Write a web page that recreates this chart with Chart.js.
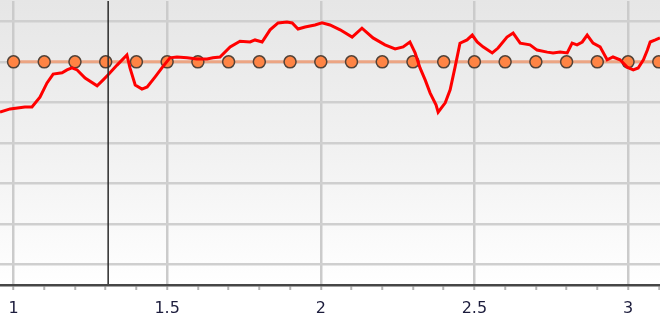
<!DOCTYPE html>
<html>
<head>
<meta charset="utf-8">
<script src="https://cdn.jsdelivr.net/npm/chart.js@4/dist/chart.umd.min.js"></script>
<style>
  html, body { margin: 0; padding: 0; background: #ffffff; }
  #wrap { width: 660px; height: 321px; }
</style>
</head>
<body>
<div id="wrap"><canvas id="c"></canvas></div>
<script>
// Measured trace (red)
const traceX = [0.956, 0.989, 1.037, 1.060, 1.086, 1.109, 1.129, 1.158, 1.174, 1.190,
  1.207, 1.233, 1.272, 1.291, 1.308, 1.337, 1.369, 1.379, 1.396, 1.418,
  1.435, 1.461, 1.483, 1.509, 1.532, 1.565, 1.597, 1.630, 1.649, 1.672,
  1.705, 1.737, 1.770, 1.786, 1.809, 1.835, 1.861, 1.890, 1.907, 1.926,
  1.949, 1.981, 2.004, 2.030, 2.063, 2.102, 2.134, 2.170, 2.209, 2.242,
  2.268, 2.290, 2.307, 2.323, 2.340, 2.356, 2.375, 2.382, 2.405, 2.421,
  2.437, 2.453, 2.476, 2.493, 2.509, 2.528, 2.558, 2.577, 2.606, 2.626,
  2.649, 2.681, 2.704, 2.737, 2.756, 2.779, 2.802, 2.818, 2.834, 2.851,
  2.867, 2.886, 2.909, 2.932, 2.951, 2.974, 2.997, 3.017, 3.033, 3.050,
  3.063, 3.072, 3.089, 3.104];
const traceY = [4.76, 4.84, 4.89, 4.89, 5.13, 5.48, 5.70, 5.73, 5.80, 5.85,
  5.80, 5.60, 5.41, 5.55, 5.68, 5.92, 6.17, 5.85, 5.43, 5.33,
  5.38, 5.63, 5.85, 6.10, 6.12, 6.10, 6.07, 6.07, 6.10, 6.12,
  6.37, 6.51, 6.49, 6.54, 6.49, 6.79, 6.96, 6.98, 6.96, 6.81,
  6.86, 6.91, 6.96, 6.91, 6.79, 6.61, 6.83, 6.59, 6.42, 6.32,
  6.37, 6.49, 6.22, 5.85, 5.55, 5.23, 4.94, 4.76, 4.99, 5.31,
  5.87, 6.46, 6.54, 6.66, 6.49, 6.37, 6.22, 6.34, 6.61, 6.71,
  6.46, 6.42, 6.29, 6.24, 6.22, 6.24, 6.22, 6.46, 6.42, 6.49,
  6.66, 6.46, 6.37, 6.05, 6.12, 6.05, 5.87, 5.80, 5.85, 6.05,
  6.29, 6.49, 6.54, 6.59];

// Reference level with sample markers (orange)
const levelX = [1.0, 1.1, 1.2, 1.3, 1.4, 1.5, 1.6, 1.7, 1.8, 1.9, 2.0,
  2.1, 2.2, 2.3, 2.4, 2.5, 2.6, 2.7, 2.8, 2.9, 3.0, 3.1];
const levelY = [6, 6, 6, 6, 6, 6, 6, 6, 6, 6, 6,
  6, 6, 6, 6, 6, 6, 6, 6, 6, 6, 6];

// Cursor position
const cursorX = 1.308;

// Axis ranges and ticks
const xRange = [0.956, 3.104];
const yRange = [0.5, 7.5];
const xTicks = [1.0, 1.1, 1.2, 1.3, 1.4, 1.5, 1.6, 1.7, 1.8, 1.9, 2.0,
  2.1, 2.2, 2.3, 2.4, 2.5, 2.6, 2.7, 2.8, 2.9, 3.0, 3.1];
const xLabels = [1, 1.5, 2, 2.5, 3];
const yTicks = [1, 2, 3, 4, 5, 6, 7];

const toPoints = (xs, ys) => xs.map((x, i) => ({ x: x, y: ys[i] }));
const isLabelled = v => xLabels.some(l => Math.abs(l - v) < 1e-6);

const plotBackground = {
  id: 'plotBackground',
  beforeDraw(chart) {
    const { ctx, chartArea: a } = chart;
    const g = ctx.createLinearGradient(0, 0, 0, a.bottom);
    g.addColorStop(0, '#e6e6e6');
    g.addColorStop(0.55, '#f2f2f2');
    g.addColorStop(1, '#ffffff');
    ctx.save();
    ctx.fillStyle = g;
    ctx.fillRect(a.left, 0, a.right - a.left, a.bottom);
    ctx.restore();
  }
};

new Chart(document.getElementById('c'), {
  type: 'line',
  data: {
    datasets: [
      {
        data: [{ x: cursorX, y: yRange[0] }, { x: cursorX, y: yRange[1] }],
        borderColor: '#2b2b2b',
        borderWidth: 1.5,
        pointRadius: 0,
        order: 0
      },
      {
        data: toPoints(traceX, traceY),
        borderColor: '#ff0000',
        borderWidth: 3,
        pointRadius: 0,
        tension: 0,
        order: 1
      },
      {
        data: toPoints(levelX, levelY),
        borderColor: '#eca583',
        borderWidth: 3,
        pointRadius: 6,
        pointBackgroundColor: '#ff8444',
        pointBorderColor: '#514238',
        pointBorderWidth: 1.5,
        order: 2
      }
    ]
  },
  options: {
    responsive: true,
    maintainAspectRatio: false,
    animation: false,
    events: [],
    layout: { autoPadding: false, padding: { top: 1, left: 0, right: 0, bottom: 0 } },
    plugins: { legend: { display: false }, tooltip: { enabled: false } },
    scales: {
      x: {
        type: 'linear',
        min: xRange[0],
        max: xRange[1],
        afterBuildTicks: s => { s.ticks = xTicks.map(v => ({ value: v })); },
        afterFit: s => { s.paddingLeft = 0; s.paddingRight = 0; s.height = 36; },
        border: { display: true, color: '#464646', width: 2.5, z: 1 },
        grid: {
          drawOnChartArea: true,
          color: c => isLabelled(c.tick.value) ? '#cbcbcb' : 'rgba(0,0,0,0)',
          lineWidth: 2.5,
          tickLength: 5,
          tickColor: '#b4b4b4',
          tickWidth: 2
        },
        ticks: {
          autoSkip: false,
          maxRotation: 0,
          padding: 9,
          color: '#1c1c3c',
          font: { family: 'DejaVu Sans', size: 16 },
          callback: v => isLabelled(v) ? String(Math.round(v * 10) / 10) : ''
        }
      },
      y: {
        type: 'linear',
        min: yRange[0],
        max: yRange[1],
        afterBuildTicks: s => { s.ticks = yTicks.map(v => ({ value: v })); },
        afterFit: s => { s.width = 0; },
        border: { display: false },
        grid: {
          color: '#cfcfcf',
          lineWidth: 2.5,
          drawTicks: false
        },
        ticks: { display: false }
      }
    }
  },
  plugins: [plotBackground]
});
</script>
</body>
</html>
